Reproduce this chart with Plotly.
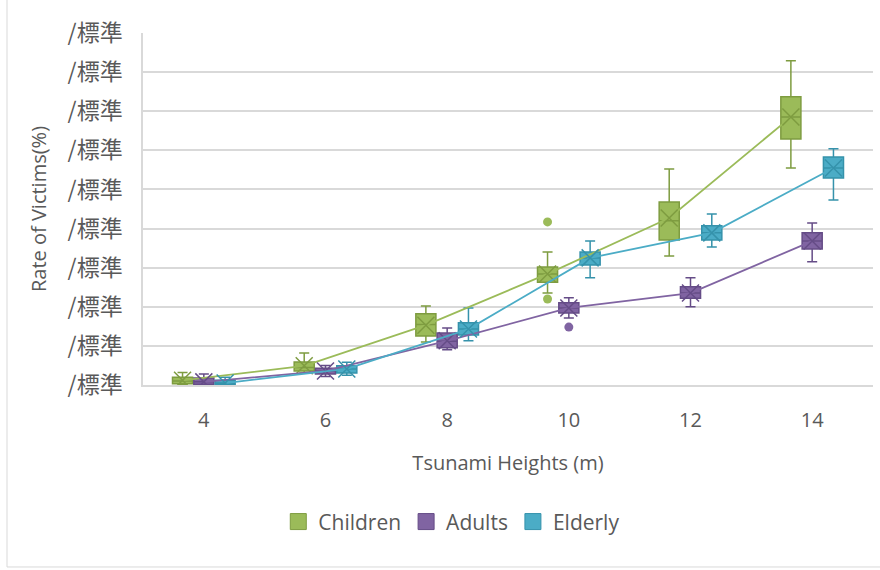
import plotly.graph_objects as go

heights = ["4", "6", "8", "10", "12", "14"]
series = ["Children", "Adults", "Elderly"]

children_q1 = [0.03, 0.36, 1.25, 2.63, 3.71, 6.29]
children_med = [0.10, 0.45, 1.55, 2.84, 4.20, 6.85]
children_q3 = [0.20, 0.59, 1.82, 3.02, 4.68, 7.37]
children_low = [0.00, 0.31, 1.10, 2.35, 3.30, 5.55]
children_high = [0.32, 0.82, 2.02, 3.40, 5.52, 8.29]
children_mean = [0.12, 0.49, 1.53, 2.84, 4.27, 6.85]

adults_q1 = [0.02, 0.28, 0.95, 1.84, 2.22, 3.48]
adults_med = [0.08, 0.36, 1.12, 1.97, 2.35, 3.68]
adults_q3 = [0.18, 0.43, 1.33, 2.10, 2.51, 3.89]
adults_low = [0.00, 0.22, 0.90, 1.71, 2.00, 3.15]
adults_high = [0.28, 0.50, 1.46, 2.23, 2.74, 4.14]
adults_mean = [0.08, 0.36, 1.13, 1.97, 2.35, 3.68]

elderly_q1 = [0.01, 0.31, 1.28, 3.07, 3.71, 5.29]
elderly_med = [0.05, 0.41, 1.43, 3.25, 3.89, 5.55]
elderly_q3 = [0.12, 0.49, 1.59, 3.40, 4.07, 5.83]
elderly_low = [0.00, 0.25, 1.13, 2.74, 3.53, 4.73]
elderly_high = [0.20, 0.58, 1.97, 3.68, 4.37, 6.04]
elderly_mean = [0.05, 0.41, 1.43, 3.25, 3.89, 5.55]

# outliers: (category index, value)
children_out_idx = [3, 3]
children_out_val = [4.17, 2.20]
adults_out_idx = [3]
adults_out_val = [1.48]
elderly_out_idx = []
elderly_out_val = []

y_tick_vals = list(range(10))
y_tick_text = ["/標準"] * 10

fills = ["#9BBB59", "#8064A2", "#4BACC6"]
edges = ["#7E9C40", "#654C87", "#3592AB"]
offsets = [-0.175, 0.0, 0.175]

data = [
    (children_q1, children_med, children_q3, children_low, children_high, children_mean, children_out_idx, children_out_val),
    (adults_q1, adults_med, adults_q3, adults_low, adults_high, adults_mean, adults_out_idx, adults_out_val),
    (elderly_q1, elderly_med, elderly_q3, elderly_low, elderly_high, elderly_mean, elderly_out_idx, elderly_out_val),
]

fig = go.Figure()
for s, (q1, med, q3, lo, hi, mean, oi, ov) in enumerate(data):
    xs = [i + offsets[s] for i in range(len(heights))]
    fig.add_trace(go.Scatter(x=xs, y=mean, mode="lines",
                             line=dict(color=fills[s], width=1.8),
                             showlegend=False, hoverinfo="skip"))
    fig.add_trace(go.Box(x=xs, q1=q1, median=med, q3=q3, lowerfence=lo, upperfence=hi,
                         width=0.165, whiskerwidth=0.5, fillcolor=fills[s],
                         line=dict(color=edges[s], width=1.5), showlegend=False,
                         hoverinfo="skip"))
    fig.add_trace(go.Scatter(x=xs, y=mean, mode="markers",
                             marker=dict(symbol="x-thin-open", size=17, color=edges[s],
                                         line=dict(color=edges[s], width=1.5)),
                             showlegend=False, hoverinfo="skip"))
    if oi:
        fig.add_trace(go.Scatter(x=[i + offsets[s] for i in oi], y=ov, mode="markers",
                                 marker=dict(symbol="circle", size=9, color=fills[s]),
                                 showlegend=False, hoverinfo="skip"))
    fig.add_trace(go.Scatter(x=[None], y=[None], mode="markers", name=series[s],
                             marker=dict(symbol="square", size=18, color=fills[s],
                                         line=dict(color=edges[s], width=1))))

TXT = "#595959"
fig.update_layout(
    width=880, height=570,
    margin=dict(l=143, r=7, t=33, b=185),
    paper_bgcolor="white", plot_bgcolor="white",
    boxmode="overlay",
    font=dict(family="Open Sans, Noto Sans CJK JP", color=TXT, size=20),
    legend=dict(orientation="h", x=0.423, xanchor="center", y=-0.389, yanchor="middle",
                font=dict(size=21, color=TXT), itemwidth=30, traceorder="normal"),
    xaxis=dict(range=[-0.5, 5.5], tickvals=list(range(len(heights))), ticktext=heights,
               showgrid=False, zeroline=False, showline=True, linecolor="#d9d9d9",
               linewidth=1.5, ticks="", ticklabelstandoff=16,
               tickfont=dict(size=20, color=TXT),
               title=dict(text="Tsunami Heights (m)", standoff=24,
                          font=dict(size=20, color=TXT))),
    yaxis=dict(range=[0, 9], tickvals=y_tick_vals, ticktext=y_tick_text,
               showgrid=True, gridcolor="#d9d9d9", gridwidth=1.5, zeroline=False,
               showline=True, linecolor="#d9d9d9", linewidth=1.5, ticks="",
               ticklabelstandoff=14,
               tickfont=dict(family="Noto Sans CJK JP", size=23, color=TXT),
               title=dict(text="Rate of Victims(%)", standoff=16,
                          font=dict(size=20, color=TXT))),
    shapes=[dict(type="rect", xref="paper", yref="paper",
                 x0=-0.1863, x1=1.05, y0=-0.517, y1=1.2,
                 line=dict(color="#d9d9d9", width=1), fillcolor="rgba(0,0,0,0)",
                 layer="below")],
)

fig.write_html("out.html", config={"displayModeBar": False},
               post_script="document.body.style.margin='0px';")
